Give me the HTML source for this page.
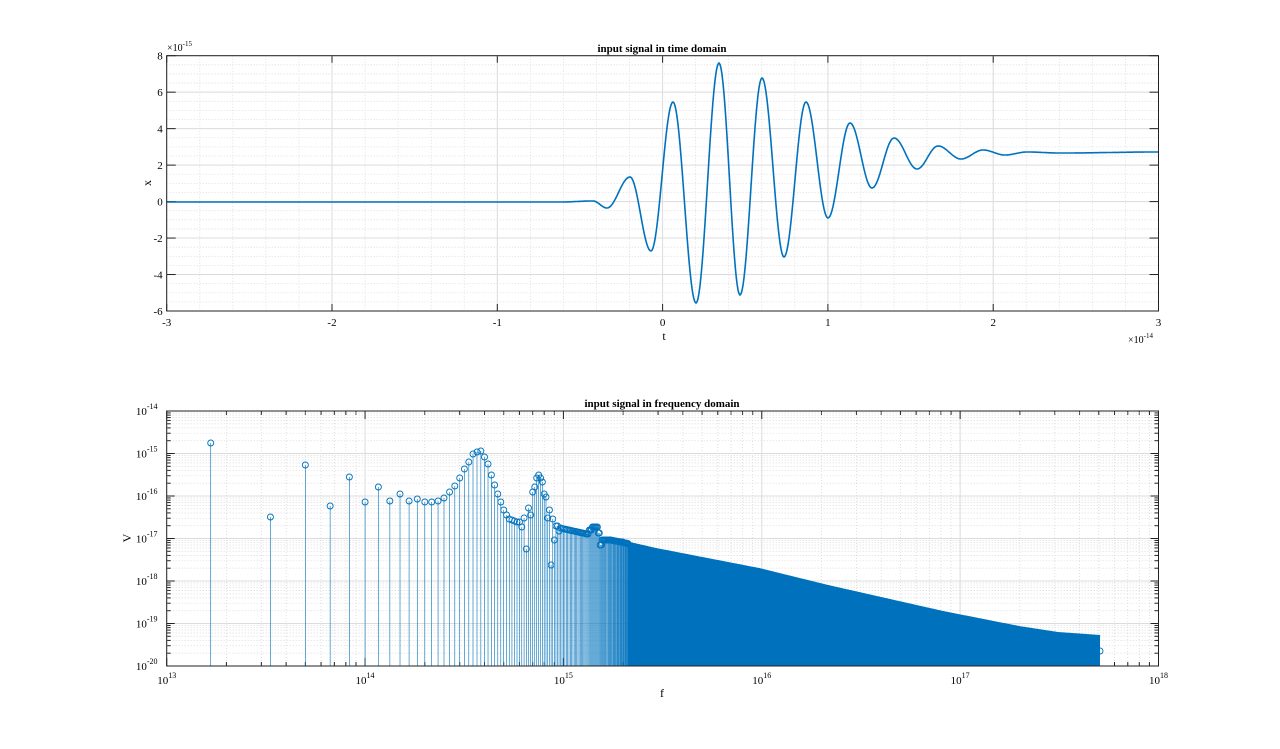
<!DOCTYPE html>
<html><head><meta charset="utf-8"><style>
html,body{margin:0;padding:0;background:#fff;}
svg{display:block;font-family:"Liberation Serif",serif;}
</style></head><body>
<svg id="s" width="1280" height="749" xmlns="http://www.w3.org/2000/svg"></svg>
<script>
const S=document.getElementById('s');let h='';
const L=166.7,R=1158.5;
const C='#0072BD';
const T1=55.7,B1=311;
const xt=t=>L+(t+3)*(R-L)/6, yt=v=>B1-(v+6)*(B1-T1)/14;
for(let t=-3;t<=3.001;t+=0.2){let x=xt(t);h+=`<line x1="${x}" y1="${T1}" x2="${x}" y2="${B1}" stroke="#d8d8d8" stroke-width="0.8" stroke-dasharray="1,2"/>`;}
for(let v=-6;v<=8.001;v+=0.5){let y=yt(v);h+=`<line x1="${L}" y1="${y}" x2="${R}" y2="${y}" stroke="#d8d8d8" stroke-width="0.8" stroke-dasharray="1,2"/>`;}
for(let t=-3;t<=3;t++){let x=xt(t);h+=`<line x1="${x}" y1="${T1}" x2="${x}" y2="${B1}" stroke="#dcdcdc" stroke-width="1"/>`;h+=`<line x1="${x}" y1="${T1}" x2="${x}" y2="${T1+7}" stroke="#222"/><line x1="${x}" y1="${B1}" x2="${x}" y2="${B1-7}" stroke="#222"/>`;h+=`<text x="${x}" y="${B1+15}" font-size="11" text-anchor="middle">${t}</text>`;}
for(let v=-6;v<=8;v+=2){let y=yt(v);h+=`<line x1="${L}" y1="${y}" x2="${R}" y2="${y}" stroke="#dcdcdc" stroke-width="1"/>`;h+=`<line x1="${L}" y1="${y}" x2="${L+9}" y2="${y}" stroke="#222"/><line x1="${R}" y1="${y}" x2="${R-9}" y2="${y}" stroke="#222"/>`;h+=`<text x="${L-4}" y="${y+4}" font-size="11" text-anchor="end">${v}</text>`;}
const E=[[166.7,202],[560,202],[593,201],[607,208],[630,177],[651,251],[673,102],[696,303],[719,63],[740,295],[762,78],[784,257],[806,102],[828,218],[850,123],[872,188],[894,138],[917,169],[938,146],[961,159],[983,150],[1005,155],[1027,152],[1060,153],[1158.5,152]];
let p=[];
for(let i=0;i<E.length-1;i++){const [x0,y0]=E[i],[x1,y1]=E[i+1];const n=Math.max(2,Math.round((x1-x0)));for(let j=0;j<n;j++){const u=j/n;p.push([x0+(x1-x0)*u,y0+(y1-y0)*(1-Math.cos(Math.PI*u))/2]);}}
p.push(E[E.length-1]);
h+=`<polyline fill="none" stroke="${C}" stroke-width="1.6" points="${p.map(a=>a[0].toFixed(1)+','+a[1].toFixed(1)).join(' ')}"/>`;
h+=`<rect x="${L}" y="${T1}" width="${R-L}" height="${B1-T1}" fill="none" stroke="#222" stroke-width="1"/>`;
h+=`<text x="662" y="52" font-size="11" font-weight="bold" text-anchor="middle">input signal in time domain</text>`;
h+=`<text x="167" y="51" font-size="10">×10<tspan font-size="7" dy="-5">-15</tspan></text>`;
h+=`<text x="1128" y="343" font-size="10">×10<tspan font-size="7" dy="-5">-14</tspan></text>`;
h+=`<text x="664" y="340" font-size="12" text-anchor="middle">t</text>`;
h+=`<text x="148" y="186" font-size="12" text-anchor="middle" transform="rotate(-90 148 183)">x</text>`;
const T2=411,B2=666,D=(R-L)/5,DY=(B2-T2)/6;
const xf=lf=>L+(lf-13)*D;
for(let d=13;d<18;d++)for(let m=2;m<10;m++){let x=xf(d+Math.log10(m));h+=`<line x1="${x}" y1="${T2}" x2="${x}" y2="${B2}" stroke="#d8d8d8" stroke-width="0.8" stroke-dasharray="1,2"/>`;h+=`<line x1="${x}" y1="${B2}" x2="${x}" y2="${B2-4}" stroke="#222"/><line x1="${x}" y1="${T2}" x2="${x}" y2="${T2+4}" stroke="#222"/>`;}
for(let d=0;d<6;d++)for(let m=2;m<10;m++){let y=B2-(d+Math.log10(m))*DY;h+=`<line x1="${L}" y1="${y}" x2="${R}" y2="${y}" stroke="#d8d8d8" stroke-width="0.8" stroke-dasharray="1,2"/>`;h+=`<line x1="${L}" y1="${y}" x2="${L+4}" y2="${y}" stroke="#222"/><line x1="${R}" y1="${y}" x2="${R-4}" y2="${y}" stroke="#222"/>`;}
for(let d=13;d<=18;d++){let x=xf(d);h+=`<line x1="${x}" y1="${T2}" x2="${x}" y2="${B2}" stroke="#dcdcdc"/><line x1="${x}" y1="${B2}" x2="${x}" y2="${B2-8}" stroke="#222"/><line x1="${x}" y1="${T2}" x2="${x}" y2="${T2+8}" stroke="#222"/>`;h+=`<text x="${x}" y="${B2+18}" font-size="11" text-anchor="middle">10<tspan font-size="8" dy="-6">${d}</tspan></text>`;}
for(let d=0;d<=6;d++){let y=B2-d*DY;h+=`<line x1="${L}" y1="${y}" x2="${R}" y2="${y}" stroke="#dcdcdc"/><line x1="${L}" y1="${y}" x2="${L+8}" y2="${y}" stroke="#222"/><line x1="${R}" y1="${y}" x2="${R-8}" y2="${y}" stroke="#222"/>`;h+=`<text x="${L-20}" y="${y+4}" font-size="11" text-anchor="middle">10<tspan font-size="8" dy="-6">${d-20}</tspan></text>`;}
const P=[[212,443],[270,517],[305,465],[330,506],[349,477],[365,502],[378,487],[390,501],[400,494],[409,501],[417,499],[424,502],[432,502],[438,501],[444,498],[449,492],[455,486],[460,478],[464,469],[469,462],[473,454],[477,452],[481,451],[484,457],[488,464],[492,475],[495,485],[498,494],[501,502],[504,510],[507,515],[510,519],[514,521],[518,522],[522,527],[524,518],[526,549],[528,508],[531,515],[533,492],[535,487],[537,478],[539,475],[541,478],[543,482],[544,494],[547,497],[548,518],[549,510],[551,565],[552,519],[554,540],[556,526],[559,531],[560,528],[587,534],[590,530],[593,527],[596,527],[599,533],[601,545],[603,540],[610,540],[621,542],[656,550],[759,570],[828,587],[943,613],[1019,628],[1058,634],[1100,637]];
function iy(x){if(x<=P[0][0])return P[0][1];for(let i=0;i<P.length-1;i++){if(x<=P[i+1][0]){const u=(x-P[i][0])/(P[i+1][0]-P[i][0]);return P[i][1]+(P[i+1][1]-P[i][1])*u;}}return P[P.length-1][1];}
const df=1.667e13;let stems='',mk='';
let k=1,lastx=0;
for(;k<=127;k++){const x=xf(Math.log10(k*df));let y=iy(x);
let best=null,bd=9;for(const q of P){const dd=Math.abs(q[0]-x);if(dd<bd&&dd<1.5){bd=dd;best=q;}}if(best)y=best[1];
stems+=`M${x.toFixed(2)} ${B2}V${y.toFixed(1)}`;mk+=`<circle cx="${x.toFixed(2)}" cy="${y.toFixed(1)}" r="3" fill="none" stroke="${C}" stroke-width="0.9"/>`;lastx=x;}
h+=`<path d="${stems}" stroke="${C}" stroke-width="0.6" fill="none"/>`;
let poly=[[lastx,B2]];for(let x=lastx;x<=1100;x+=1)poly.push([x,iy(x)]);poly.push([1100,iy(1100)],[1100,B2]);
h+=`<polygon fill="${C}" points="${poly.map(a=>a[0].toFixed(1)+','+a[1].toFixed(1)).join(' ')}"/>`;
h+=`<polyline fill="none" stroke="${C}" stroke-width="4" points="${poly.slice(1,-1).map(a=>a[0].toFixed(1)+','+(a[1]).toFixed(1)).join(' ')}"/>`;
h+=mk;
h+=`<circle cx="1100" cy="651" r="3" fill="none" stroke="${C}" stroke-width="0.9"/>`;
h+=`<rect x="${L}" y="${T2}" width="${R-L}" height="${B2-T2}" fill="none" stroke="#222" stroke-width="1"/>`;
h+=`<text x="662" y="407" font-size="11" font-weight="bold" text-anchor="middle">input signal in frequency domain</text>`;
h+=`<text x="662" y="697" font-size="12" text-anchor="middle">f</text>`;
h+=`<text x="128" y="541" font-size="12" text-anchor="middle" transform="rotate(-90 128 538)">V</text>`;
S.innerHTML=h;
</script>
</body></html>
